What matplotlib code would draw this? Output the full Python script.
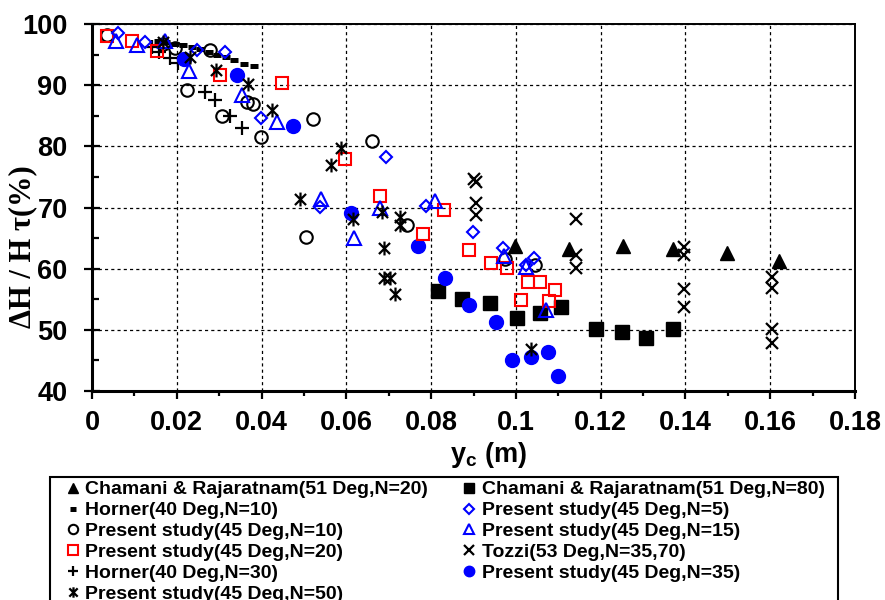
import matplotlib
matplotlib.use("Agg")
import matplotlib.pyplot as plt
from matplotlib.path import Path
from matplotlib.patches import Rectangle
from matplotlib.ticker import MultipleLocator, FuncFormatter

# ---------------- data ----------------
ch20_x = [0.0998, 0.1125, 0.1252, 0.1370, 0.1497, 0.1621]
ch20_y = [63.7, 63.2, 63.7, 63.2, 62.6, 61.3]

ch80_x = [0.0816, 0.0873, 0.0940, 0.1003, 0.1056, 0.1106, 0.1190, 0.1250, 0.1307, 0.1371]
ch80_y = [56.3, 55.1, 54.4, 52.0, 52.8, 53.7, 50.1, 49.6, 48.6, 50.1]

horner10_x = [0.0155, 0.0175, 0.0195, 0.0215, 0.0235, 0.0255, 0.0275, 0.0295, 0.0315, 0.0335, 0.0358, 0.0382]
horner10_y = [97.3, 97.0, 96.8, 96.5, 96.2, 95.9, 95.5, 95.0, 94.6, 94.1, 93.5, 93.1]

ps5_x = [0.0062, 0.0125, 0.0247, 0.0314, 0.0399, 0.0537, 0.0693, 0.0787, 0.0900, 0.0970, 0.1023, 0.1043]
ps5_y = [98.6, 97.1, 95.7, 95.5, 84.6, 70.1, 78.2, 70.3, 66.0, 63.4, 60.6, 61.8]

ps10_x = [0.0035, 0.0168, 0.0196, 0.0278, 0.0223, 0.0306, 0.0365, 0.0380, 0.0399, 0.0522, 0.0660, 0.0506, 0.0742, 0.0974, 0.1045]
ps10_y = [98.2, 96.8, 96.0, 95.8, 89.2, 84.9, 87.2, 87.0, 81.5, 84.5, 80.8, 65.2, 67.2, 61.6, 60.6]

ps15_x = [0.0057, 0.0105, 0.0172, 0.0230, 0.0355, 0.0436, 0.0540, 0.0617, 0.0680, 0.0809, 0.0973, 0.1025, 0.1072]
ps15_y = [97.3, 96.6, 97.2, 92.3, 88.4, 83.9, 71.4, 65.0, 70.0, 71.0, 62.0, 60.3, 53.3]

ps20_x = [0.0035, 0.0095, 0.0153, 0.0302, 0.0449, 0.0598, 0.0679, 0.0831, 0.0781, 0.0890, 0.0941, 0.0980, 0.1028, 0.1057, 0.1092, 0.1013, 0.1079]
ps20_y = [98.1, 97.3, 95.6, 91.6, 90.4, 77.9, 71.9, 69.6, 65.6, 63.0, 61.0, 60.1, 57.8, 57.8, 56.5, 54.9, 54.7]

tozzi_x = [0.0901, 0.0907, 0.0907, 0.0907, 0.1142, 0.1142, 0.1142, 0.1396, 0.1396, 0.1396, 0.1396, 0.1605, 0.1605, 0.1605, 0.1605]
tozzi_y = [74.6, 74.1, 70.7, 68.8, 68.1, 62.2, 60.1, 63.5, 62.2, 56.6, 53.8, 58.7, 56.8, 50.1, 47.9]

horner30_x = [0.0141, 0.0159, 0.0184, 0.0204, 0.0267, 0.0290, 0.0325, 0.0353]
horner30_y = [96.3, 95.5, 94.5, 93.7, 88.9, 87.5, 85.0, 83.0]

ps35_x = [0.0218, 0.0341, 0.0475, 0.0610, 0.0770, 0.0833, 0.0890, 0.0953, 0.0991, 0.1035, 0.1075, 0.1100]
ps35_y = [94.3, 91.6, 83.3, 69.1, 63.7, 58.4, 54.0, 51.2, 45.0, 45.5, 46.3, 42.5]

ps50_x = [0.0168, 0.0231, 0.0292, 0.0369, 0.0424, 0.0588, 0.0564, 0.0491, 0.0615, 0.0685, 0.0726, 0.0726, 0.0689, 0.0688, 0.0703, 0.0715, 0.1035]
ps50_y = [97.0, 94.6, 92.4, 90.2, 86.0, 79.8, 77.0, 71.4, 68.2, 69.2, 68.4, 67.1, 63.3, 58.4, 58.4, 55.8, 46.8]

labels = {
    "ch20": "Chamani & Rajaratnam(51 Deg,N=20)",
    "ch80": "Chamani & Rajaratnam(51 Deg,N=80)",
    "h10": "Horner(40 Deg,N=10)",
    "ps5": "Present study(45 Deg,N=5)",
    "ps10": "Present study(45 Deg,N=10)",
    "ps15": "Present study(45 Deg,N=15)",
    "ps20": "Present study(45 Deg,N=20)",
    "tozzi": "Tozzi(53 Deg,N=35,70)",
    "h30": "Horner(40 Deg,N=30)",
    "ps35": "Present study(45 Deg,N=35)",
    "ps50": "Present study(45 Deg,N=50)",
}

x_ticks = [0, 0.02, 0.04, 0.06, 0.08, 0.10, 0.12, 0.14, 0.16, 0.18]
y_ticks = [40, 50, 60, 70, 80, 90, 100]

# ---------------- figure ----------------
W, H = 885, 600
fig = plt.figure(figsize=(W / 100, H / 100), dpi=100)
ax = fig.add_axes([92 / W, 1 - 391 / H, (855 - 92) / W, (391 - 24) / H])

BLUE = (0, 0, 1)
RED = (1, 0, 0)

star_path = Path(
    [(-1, -1), (1, 1), (-1, 1), (1, -1), (0, -1.25), (0, 1.25)],
    [Path.MOVETO, Path.LINETO, Path.MOVETO, Path.LINETO, Path.MOVETO, Path.LINETO],
)

h = {}
h["tozzi"], = ax.plot(tozzi_x, tozzi_y, ls="none", marker="x", ms=9, mew=1.6, color="black")
h["ch80"], = ax.plot(ch80_x, ch80_y, ls="none", marker="s", ms=9.5, color="black")
h["ch20"], = ax.plot(ch20_x, ch20_y, ls="none", marker="^", ms=10, color="black")
h["h10"], = ax.plot(horner10_x, horner10_y, ls="none", marker="_", ms=5.8, mew=3.6, color="black")
h["h30"], = ax.plot(horner30_x, horner30_y, ls="none", marker="+", ms=10, mew=1.6, color="black")
h["ps10"], = ax.plot(ps10_x, ps10_y, ls="none", marker="o", ms=9, mew=1.5, mfc="none", mec="black")
h["ps35"], = ax.plot(ps35_x, ps35_y, ls="none", marker="o", ms=10, color=BLUE)
h["ps20"], = ax.plot(ps20_x, ps20_y, ls="none", marker="s", ms=9, mew=1.5, mfc="none", mec=RED)
h["ps15"], = ax.plot(ps15_x, ps15_y, ls="none", marker="^", ms=9.5, mew=1.5, mfc="none", mec=BLUE)
h["ps5"], = ax.plot(ps5_x, ps5_y, ls="none", marker="D", ms=6.5, mew=1.5, mfc="none", mec=BLUE)
h["ps50"], = ax.plot(ps50_x, ps50_y, ls="none", marker=star_path, ms=10, mew=1.6, color="black")

ax.set_xlim(0, 0.18)
ax.set_ylim(40, 100)
ax.set_xticks(x_ticks)
ax.set_yticks(y_ticks)
ax.xaxis.set_minor_locator(MultipleLocator(0.01))
ax.yaxis.set_minor_locator(MultipleLocator(5))
ax.xaxis.set_major_formatter(FuncFormatter(lambda v, p: "0" if abs(v) < 1e-9 else f"{v:g}"))
ax.yaxis.set_major_formatter(FuncFormatter(lambda v, p: f"{v:g}"))

ax.grid(True, which="major", color="black", linestyle=(0, (2.5, 2.5)), linewidth=0.9)
ax.set_axisbelow(True)

for side in ["left", "bottom"]:
    ax.spines[side].set_linewidth(2.2)
for side in ["top", "right"]:
    ax.spines[side].set_linewidth(1.4)

ax.tick_params(axis="y", which="major", direction="inout", length=11, width=1.6, pad=12)
ax.tick_params(axis="y", which="minor", direction="in", length=5, width=1.6)
ax.tick_params(axis="x", which="major", direction="out", length=6, width=1.6, pad=8)
ax.tick_params(axis="x", which="minor", direction="out", length=3.5, width=1.6)
for lab in ax.get_xticklabels() + ax.get_yticklabels():
    lab.set_fontfamily(["Liberation Sans", "DejaVu Sans"])
    lab.set_fontweight("bold")
    lab.set_fontsize(19.5)

fig.text(488 / W, 1 - 455 / H, r"y$_\mathregular{c}$ (m)", ha="center", va="center",
         family=["Liberation Sans", "DejaVu Sans"], weight="bold", size=19.5)
fig.text(23 / W, 1 - 247 / H, "ΔH / H τ(%)", ha="center", va="center", rotation=90,
         family=["Liberation Serif", "DejaVu Serif"], weight="bold", size=22)

# legend frame (extends past the bottom of the figure, as in the reference)
fig.patches.append(Rectangle((50 / W, -0.05), (838 - 50) / W, (1 - 477 / H) + 0.05,
                             transform=fig.transFigure, fill=False, edgecolor="black",
                             linewidth=1.5, zorder=5))

order = ["ch20", "h10", "ps10", "ps20", "h30", "ps50", "ch80", "ps5", "ps15", "tozzi", "ps35"]
leg = fig.legend([h[k] for k in order], [labels[k] for k in order],
                 loc="upper left", bbox_to_anchor=(59 / W, 1 - 474 / H), ncol=2,
                 frameon=False,
                 prop=dict(family=["Liberation Sans", "DejaVu Sans"], weight="bold", size=14),
                 markerscale=0.75, handlelength=0.7, handletextpad=0.3, labelspacing=0.17,
                 columnspacing=1.75, borderpad=0.35, borderaxespad=0)

fig.savefig("out.png", dpi=100)
